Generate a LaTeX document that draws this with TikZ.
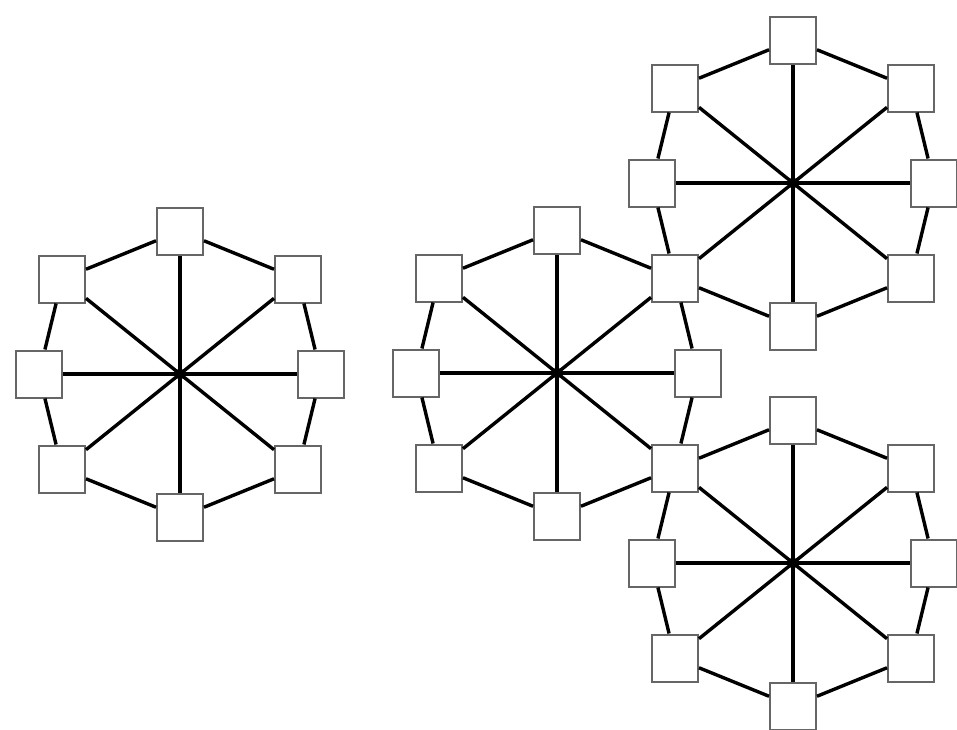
\documentclass[tikz,border=0pt]{standalone}
\newcommand{\wheelboxes}[3]{%
  \node[hub] (#1) at (#2) {};
  \foreach \i in {#3} {
    \pgfmathsetmacro{\dx}{{0,118,141,118,0,-118,-141,-118}[\i-1]}
    \pgfmathsetmacro{\dy}{{-143,-95,0,95,143,95,0,-95}[\i-1]}
    \node[box] (#1-\i) at ([shift={(\dx,\dy)}]#1) {};
  }
}
\newcommand{\wheellinks}[1]{%
  \foreach \i in {1,...,8}
    \draw[link] (#1.center) -- (#1-\i);
  \foreach \i/\j in {1/2,2/3,3/4,4/5,5/6,6/7,7/8,8/1}
    \draw[link] (#1-\i) -- (#1-\j);
}
\begin{document}
\begin{tikzpicture}[x=0.5pt,y=-0.5pt,
  box/.style={draw=black!60,line width=1pt,fill=white,inner sep=0pt,
    minimum width=23pt,minimum height=23.5pt},
  hub/.style={circle,fill=black,inner sep=0pt,minimum size=5.5pt},
  link/.style={line width=1.7pt}]
  \useasboundingbox (0,0) rectangle (957,729);
  \wheelboxes{lw}{180,374}{1,...,8}
  \wheelboxes{mw}{557,373}{1,...,8}
  \wheelboxes{tw}{793,183}{1,2,3,4,5,7,8}
  \wheelboxes{bw}{793,563}{1,2,3,4,5,6,7}
  % the right wheels share a box with the middle one
  \pgfnodealias{tw-6}{mw-2}
  \pgfnodealias{bw-8}{mw-4}
  \wheellinks{lw}
  \wheellinks{mw}
  \wheellinks{tw}
  \wheellinks{bw}
\end{tikzpicture}
\end{document}
